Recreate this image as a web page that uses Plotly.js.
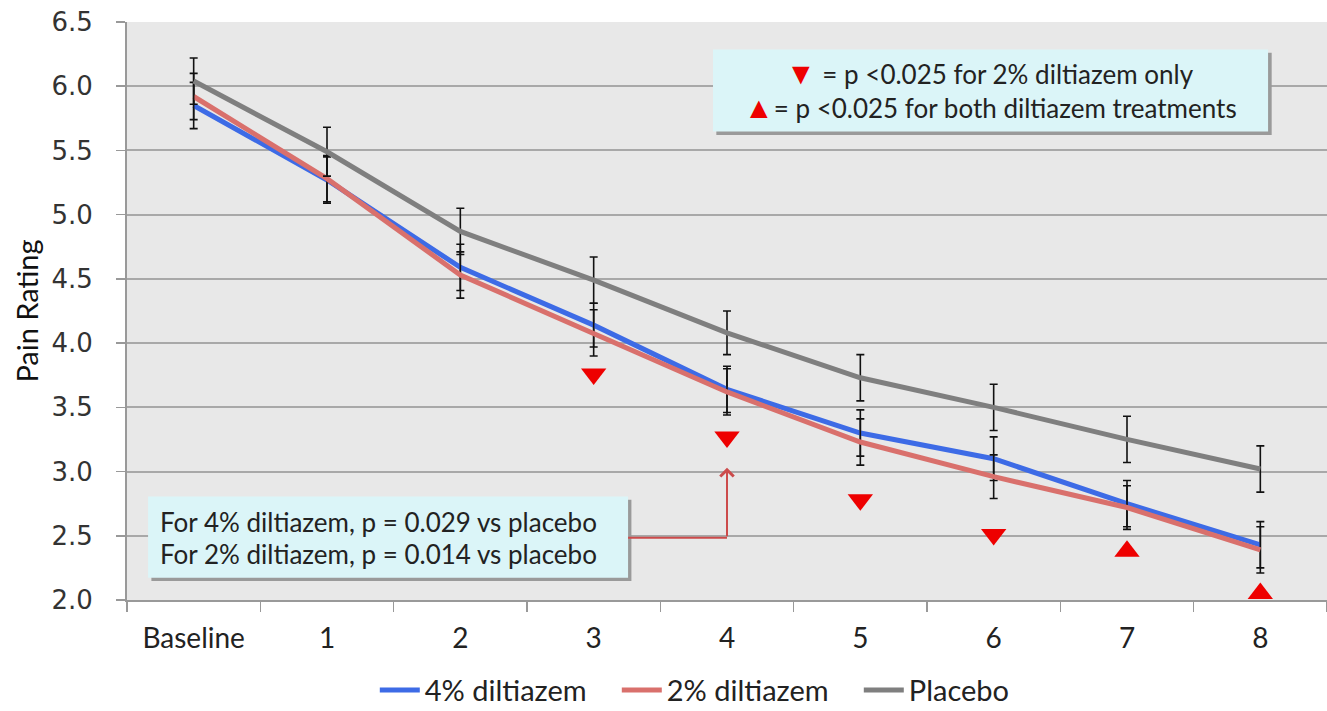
<!DOCTYPE html>
<html><head><meta charset="utf-8">
<script src="https://cdn.plot.ly/plotly-3.0.1.min.js"></script>
<style>html,body{margin:0;padding:0;background:#fff}#chart{width:1327px;height:711px}</style>
</head><body><div id="chart"></div>
<script>
const categories = ['Baseline','1','2','3','4','5','6','7','8'];
const dil4 = [5.85, 5.27, 4.59, 4.14, 3.64, 3.30, 3.10, 2.75, 2.43];
const dil4Err = [0.18, 0.18, 0.18, 0.17, 0.18, 0.18, 0.17, 0.18, 0.18];
const dil2 = [5.92, 5.28, 4.53, 4.08, 3.62, 3.23, 2.96, 2.72, 2.39];
const dil2Err = [0.18, 0.18, 0.18, 0.18, 0.18, 0.18, 0.17, 0.17, 0.18];
const placebo = [6.04, 5.49, 4.87, 4.49, 4.08, 3.73, 3.50, 3.25, 3.02];
const placeboErr = [0.18, 0.19, 0.18, 0.18, 0.17, 0.18, 0.18, 0.18, 0.18];
const sigDownCats = ['3','4','5','6'];
const sigDownVals = [3.76, 3.27, 2.78, 2.51];
const sigUpCats = ['7','8'];
const sigUpVals = [2.38, 2.05];
const yTicks = [2.0, 2.5, 3.0, 3.5, 4.0, 4.5, 5.0, 5.5, 6.0, 6.5];

const FONT = 'Lato, "Open Sans", sans-serif';
function errStyle(arr){return {type:'data', array:arr, visible:true, color:'#111', thickness:1.6, width:4};}
const traces = [
  {x:categories, y:dil4, name:'4% diltiazem', type:'scatter', mode:'lines', line:{color:'#3d6be6', width:5}, error_y:errStyle(dil4Err)},
  {x:categories, y:dil2, name:'2% diltiazem', type:'scatter', mode:'lines', line:{color:'#d9706c', width:5}, error_y:errStyle(dil2Err)},
  {x:categories, y:placebo, name:'Placebo', type:'scatter', mode:'lines', line:{color:'#7f7f7f', width:5}, error_y:errStyle(placeboErr)},
  {x:sigDownCats, y:sigDownVals, type:'scatter', mode:'markers', showlegend:false, cliponaxis:false, marker:{symbol:'triangle-down', size:22, color:'#ee0000'}},
  {x:sigUpCats, y:sigUpVals, type:'scatter', mode:'markers', showlegend:false, cliponaxis:false, marker:{symbol:'triangle-up', size:22, color:'#ee0000'}}
];

const boxFill = '#dbf5f8';
const shapes = [
  {type:'rect', xref:'x', yref:'y', x0:3.92, x1:8.085, y0:5.62, y1:6.26, fillcolor:'#9a9a9a', line:{width:0}, layer:'above'},
  {type:'rect', xref:'x', yref:'y', x0:3.895, x1:8.058, y0:5.647, y1:6.285, fillcolor:boxFill, line:{width:0}, layer:'above'},
  {type:'rect', xref:'x', yref:'y', x0:-0.317, x1:3.283, y0:2.147, y1:2.78, fillcolor:'#9a9a9a', line:{width:0}, layer:'above'},
  {type:'rect', xref:'x', yref:'y', x0:-0.342, x1:3.258, y0:2.174, y1:2.805, fillcolor:boxFill, line:{width:0}, layer:'above'},
  {type:'line', xref:'x', yref:'y', x0:3.258, x1:4, y0:2.485, y1:2.485, line:{color:'#cc4b4b', width:2}, layer:'above'}
];

const annotations = [
  {xref:'x', yref:'y', x:5.976, y:6.11, text:'<span style="color:#ee0000;font-size:30px">▼</span> = p <0.025 for 2% diltiazem only', showarrow:false, font:{family:FONT, size:26, color:'#222'}, xanchor:'center', yanchor:'middle'},
  {xref:'x', yref:'y', x:5.976, y:5.845, text:'<span style="color:#ee0000;font-size:30px">▲</span>= p <0.025 for both diltiazem treatments', showarrow:false, font:{family:FONT, size:26, color:'#222'}, xanchor:'center', yanchor:'middle'},
  {xref:'x', yref:'y', x:-0.27, y:2.61, text:'For 4% diltiazem, p = 0.029 vs placebo', showarrow:false, font:{family:FONT, size:26, color:'#222'}, xanchor:'left', yanchor:'middle'},
  {xref:'x', yref:'y', x:-0.27, y:2.36, text:'For 2% diltiazem, p = 0.014 vs placebo', showarrow:false, font:{family:FONT, size:26, color:'#222'}, xanchor:'left', yanchor:'middle'},
  {xref:'x', yref:'y', x:4, y:3.03, axref:'x', ayref:'y', ax:4, ay:2.485, text:'', showarrow:true, arrowhead:4, arrowsize:1.3, arrowwidth:2, arrowcolor:'#cc4b4b'}
];

const layout = {
  width:1327, height:711,
  margin:{l:127, r:0, t:22, b:111, autoexpand:false},
  paper_bgcolor:'#ffffff', plot_bgcolor:'#e8e8e8',
  showlegend:true,
  legend:{orientation:'h', x:0.509, xanchor:'center', y:-0.156, yanchor:'middle', font:{family:FONT, size:29, color:'#222'}, itemwidth:40, entrywidth:187, tracegroupgap:0},
  xaxis:{type:'category', categoryorder:'array', categoryarray:categories, range:[-0.5, 8.5], tickson:'boundaries', ticks:'outside', ticklen:10, tickcolor:'#999', tickwidth:1.5, ticklabelstandoff:12, showline:true, linecolor:'#999', linewidth:2, showgrid:false, automargin:false, tickfont:{family:FONT, size:28, color:'#222'}, fixedrange:true},
  yaxis:{range:[2.0, 6.5], tickvals:yTicks, ticktext:yTicks.map(v=>v.toFixed(1)), ticks:'outside', ticklen:9, tickcolor:'#999', tickwidth:1.5, ticklabelstandoff:18, automargin:false, showline:true, linecolor:'#999', linewidth:2, showgrid:true, gridcolor:'#a8a8a8', gridwidth:2, zeroline:false, tickfont:{family:'"DejaVu Sans", sans-serif', size:26, color:'#333'}, title:{text:'Pain Rating', font:{family:FONT, size:29, color:'#111'}, standoff:4}},
  shapes:shapes,
  annotations:annotations
};
Plotly.newPlot('chart', traces, layout, {displayModeBar:false, staticPlot:true});
</script>
</body></html>
